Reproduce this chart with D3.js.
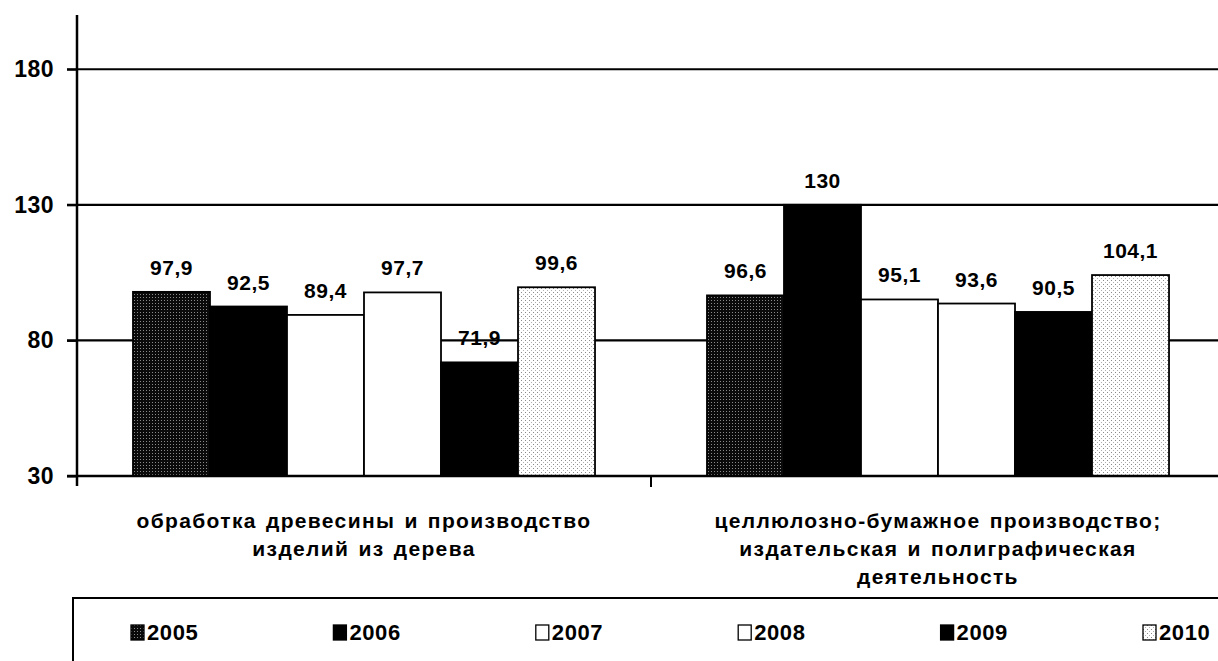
<!DOCTYPE html>
<html><head><meta charset="utf-8">
<script src="https://cdn.jsdelivr.net/npm/d3@7"></script>
<style>
body{margin:0;background:#fff}
svg{display:block}
text{font-family:"Liberation Sans",Arial,sans-serif;font-weight:bold;fill:#000}
</style>
</head><body>
<svg id="c" width="1218" height="661"></svg>
<script>
// ---- data ----
const categories = ["wood", "paper"];
const categoryLabels = [
  ["обработка древесины и производство", "изделий из дерева"],
  ["целлюлозно-бумажное производство;", "издательская и полиграфическая", "деятельность"]
];
const years = ["2005", "2006", "2007", "2008", "2009", "2010"];
const woodValues  = [97.9, 92.5, 89.4, 97.7, 71.9, 99.6];
const paperValues = [96.6, 130, 95.1, 93.6, 90.5, 104.1];
const yTicks = [30, 80, 130, 180];

// ---- setup ----
const svg = d3.select("#c");
const W = 1218;
const fills = {"2005":"url(#p2005)","2006":"#000","2007":"#fff","2008":"#fff","2009":"#000","2010":"url(#p2010)"};

const defs = svg.append("defs");
const pa = defs.append("pattern").attr("id","p2005").attr("patternUnits","userSpaceOnUse").attr("width",3).attr("height",3);
pa.append("rect").attr("width",3).attr("height",3).attr("fill","#0a0a0a");
pa.append("rect").attr("width",1).attr("height",1).attr("fill","#8a8a8a");
const pb = defs.append("pattern").attr("id","p2010").attr("patternUnits","userSpaceOnUse").attr("width",4).attr("height",4);
pb.append("rect").attr("width",4).attr("height",4).attr("fill","#fff");
pb.append("rect").attr("width",1).attr("height",1).attr("fill","#8a8a8a");
pb.append("rect").attr("x",2).attr("y",2).attr("width",1).attr("height",1).attr("fill","#b0b0b0");

const x0 = d3.scaleBand().domain(categories).range([77, 1225]).padding(0);
const x1 = d3.scaleBand().domain(years).range([0, x0.bandwidth()]).paddingInner(0).paddingOuter(0.727);
const y = d3.scaleLinear().domain([30, 200]).range([476, 15]);

const data = categories.map((c, i) => ({
  cat: c,
  vals: years.map((yr, j) => ({year: yr, v: (i === 0 ? woodValues : paperValues)[j]}))
}));

// gridlines
svg.append("g").selectAll("line").data(yTicks.filter(t => t > 30)).join("line")
  .attr("x1", 67).attr("x2", W).attr("y1", d => y(d)).attr("y2", d => y(d))
  .attr("stroke", "#000").attr("stroke-width", 2.2);

// bars
const g = svg.append("g").selectAll("g").data(data).join("g")
  .attr("transform", d => `translate(${x0(d.cat)},0)`);
g.selectAll("rect").data(d => d.vals).join("rect")
  .attr("x", d => x1(d.year)).attr("width", x1.bandwidth())
  .attr("y", d => y(d.v)).attr("height", d => y(30) - y(d.v))
  .attr("fill", d => fills[d.year]).attr("stroke", "#000").attr("stroke-width", 1.8);

// value labels
g.selectAll("text").data(d => d.vals).join("text")
  .attr("x", d => x1(d.year) + x1.bandwidth() / 2)
  .attr("y", d => y(d.v) - 17)
  .attr("text-anchor", "middle").attr("font-size", 21).attr("letter-spacing", 0.5)
  .text(d => String(d.v).replace(".", ","));

// y axis
const yAxis = svg.append("g").attr("transform", "translate(77,0)")
  .call(d3.axisLeft(y).tickValues(yTicks).tickSize(10).tickPadding(13).tickFormat(d3.format("d")));
yAxis.select(".domain").attr("stroke", "#000").attr("stroke-width", 2.5).attr("d", "M0,15V486");
yAxis.selectAll(".tick line").attr("stroke", "#000").attr("stroke-width", 2);
yAxis.selectAll(".tick text").attr("font-size", 23).attr("letter-spacing", 0.5)
  .attr("font-family", '"Liberation Sans",Arial,sans-serif').attr("font-weight", "bold").attr("fill", "#000");

// x axis
const xAxis = svg.append("g").attr("transform", "translate(0,476)")
  .call(d3.axisBottom(x0).tickSize(0).tickFormat(""));
xAxis.select(".domain").attr("stroke", "#000").attr("stroke-width", 2.5).attr("d", `M67,0H${W}`);
svg.append("g").selectAll("line").data(categories.slice(1)).join("line")
  .attr("x1", d => x0(d)).attr("x2", d => x0(d)).attr("y1", 476).attr("y2", 487)
  .attr("stroke", "#000").attr("stroke-width", 2);

// category labels
const cl = svg.append("g").selectAll("text").data(categories).join("text")
  .attr("x", d => x0(d) + x0.bandwidth() / 2)
  .attr("y", 528).attr("text-anchor", "middle").attr("font-size", 21)
  .attr("letter-spacing", 1.35).attr("word-spacing", 2);
cl.selectAll("tspan").data((d, i) => categoryLabels[i]).join("tspan")
  .attr("x", function() { return d3.select(this.parentNode).attr("x"); })
  .attr("dy", (d, i) => i === 0 ? 0 : 28).text(d => d);

// legend
svg.append("path").attr("d", `M73,661V598H${W}`).attr("fill", "none").attr("stroke", "#000").attr("stroke-width", 2);
const lx = d3.scaleLinear().domain([0, years.length - 1]).range([131, 1143]);
const li = svg.append("g").selectAll("g").data(years).join("g")
  .attr("transform", (d, i) => `translate(${lx(i)},625)`);
li.append("rect").attr("width", 13).attr("height", 15).attr("fill", d => fills[d]).attr("stroke", "#000").attr("stroke-width", 1.3);
li.append("text").attr("x", 16).attr("y", 15).attr("font-size", 22).attr("letter-spacing", 0.6).text(d => d);
</script>
</body></html>
